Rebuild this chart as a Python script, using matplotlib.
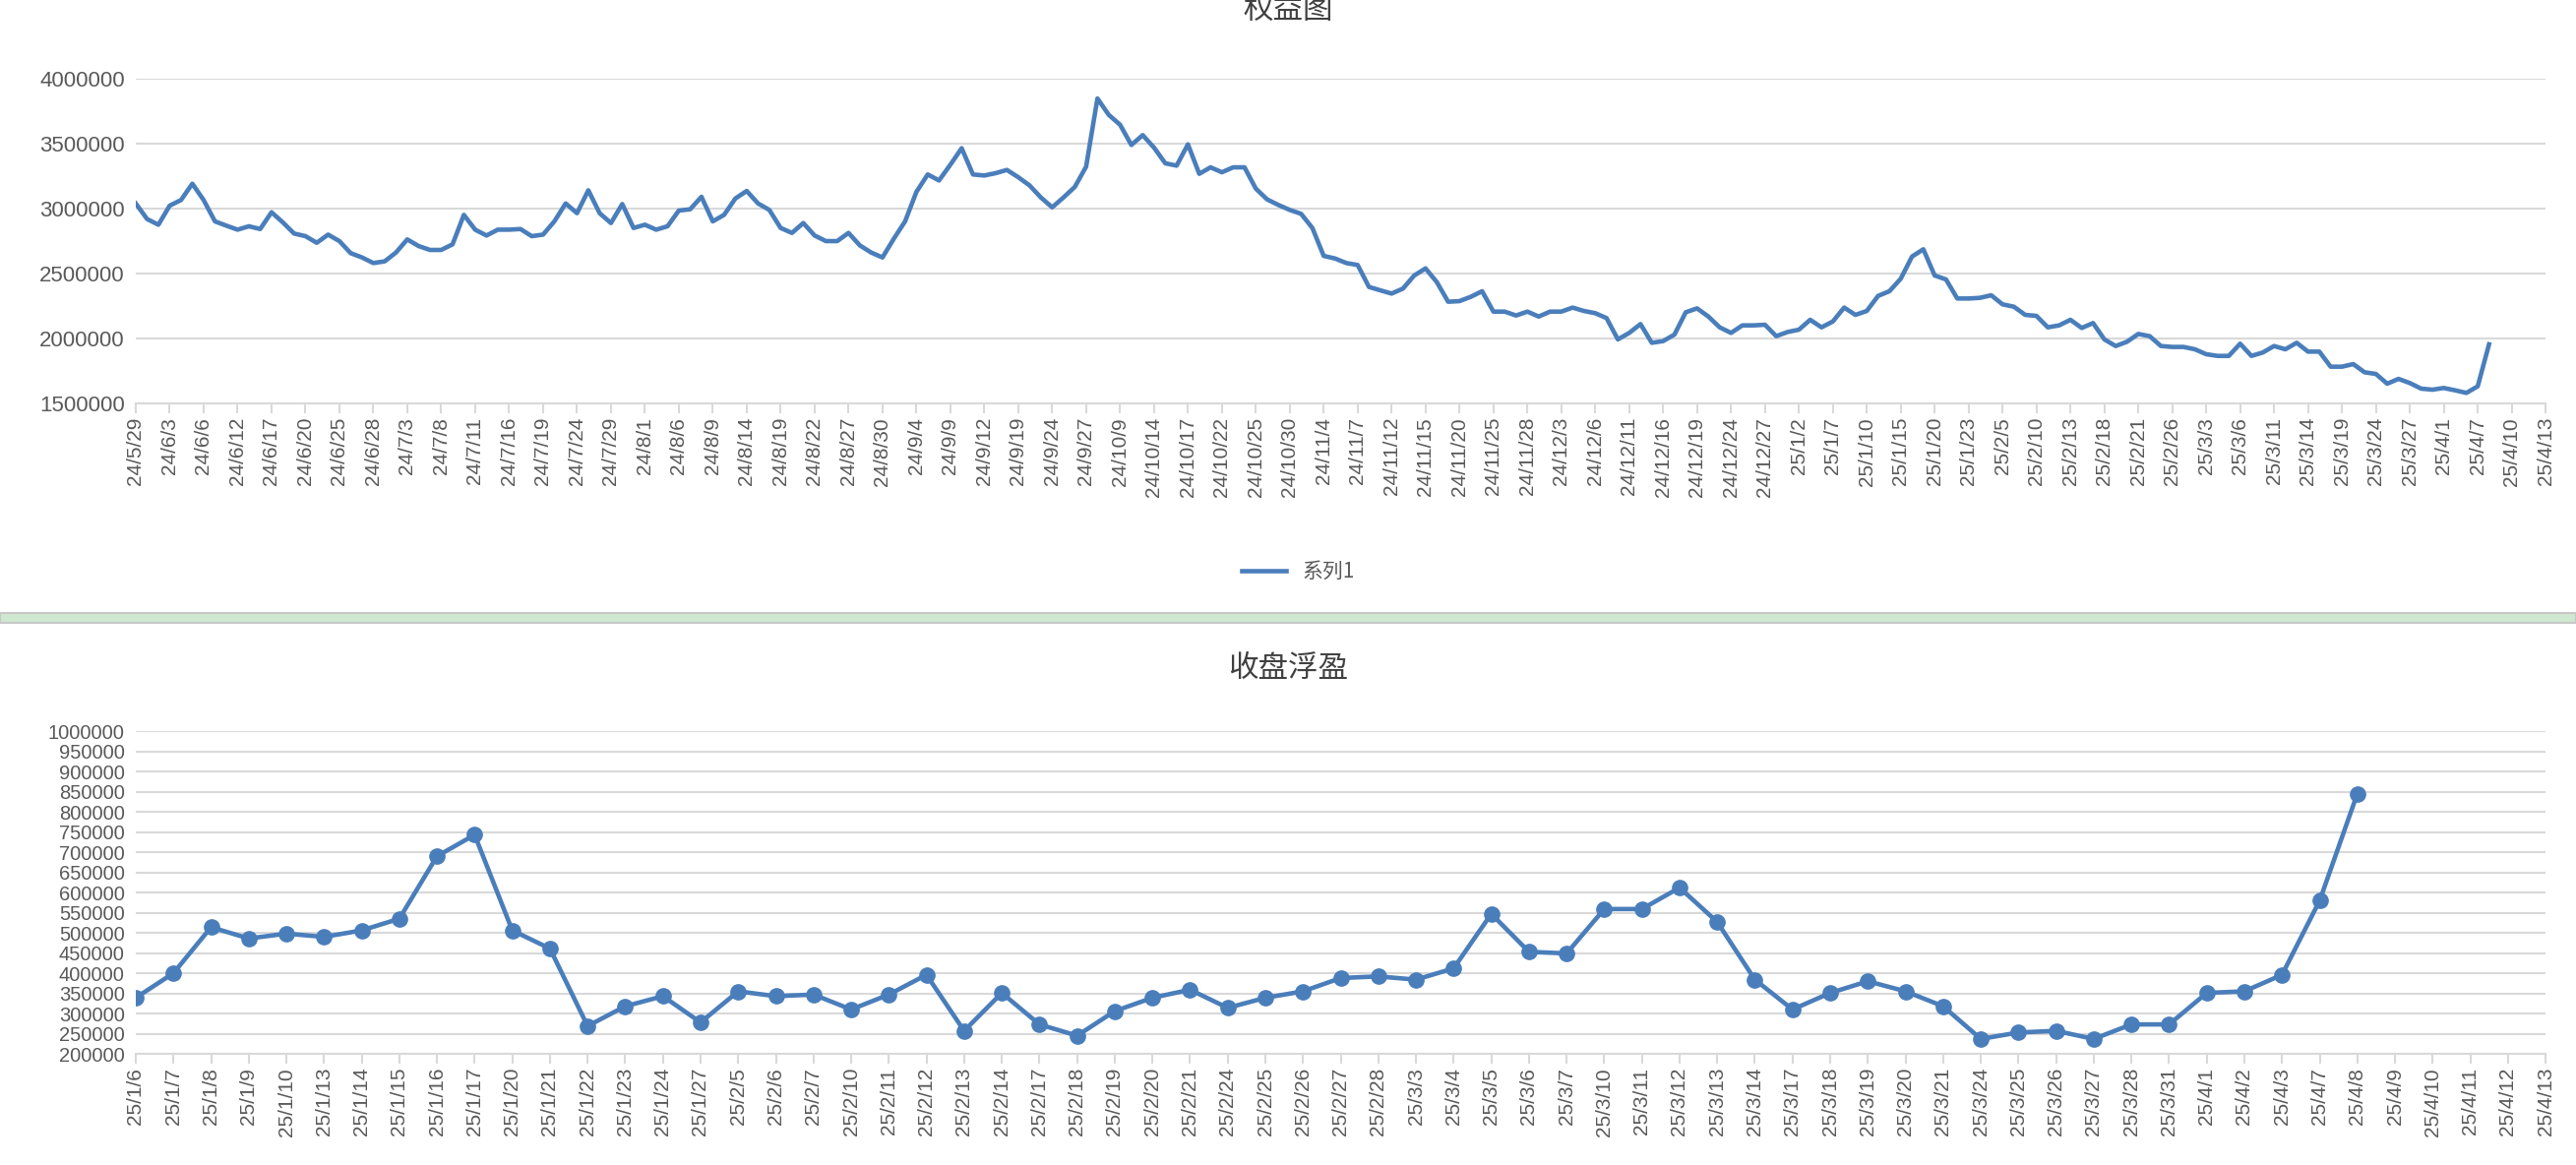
import matplotlib
matplotlib.use("Agg")
import matplotlib.pyplot as plt
from matplotlib.patches import Rectangle
from matplotlib.lines import Line2D
from matplotlib.ticker import FuncFormatter

plt.rcParams['font.family'] = ['Liberation Sans', 'Noto Sans CJK SC', 'DejaVu Sans']

# equity curve (trading days from 24/5/29 to 25/4/8), in thousands
equity_k = [
    3040, 2920, 2876, 3023, 3066, 3192, 3066, 2902, 2869, 2838,
    2864, 2843, 2972, 2894, 2808, 2788, 2737, 2800, 2750, 2657,
    2624, 2581, 2594, 2662, 2763, 2712, 2682, 2682, 2725, 2952,
    2838, 2793, 2838, 2838, 2843, 2788, 2800, 2902, 3040, 2965,
    3141, 2965, 2889, 3035, 2851, 2876, 2838, 2864, 2985, 2995,
    3091, 2902, 2952, 3078, 3136, 3040, 2990, 2851, 2813, 2889,
    2793, 2750, 2750, 2813, 2717, 2662, 2624, 2768, 2902, 3129,
    3263, 3217, 3338, 3465, 3263, 3255, 3273, 3298, 3242, 3179,
    3086, 3010, 3086, 3167, 3323, 3848, 3722, 3646, 3490, 3566,
    3470, 3349, 3331, 3495, 3268, 3318, 3280, 3318, 3318, 3154,
    3071, 3028, 2990, 2960, 2851, 2636, 2616, 2581, 2566, 2397,
    2371, 2346, 2384, 2485, 2540, 2434, 2283, 2288, 2321, 2364,
    2207, 2207, 2177, 2207, 2169, 2207, 2207, 2238, 2212, 2195,
    2157, 1993, 2043, 2111, 1967, 1980, 2030, 2202, 2232, 2169,
    2086, 2043, 2101, 2101, 2106, 2018, 2050, 2068, 2144, 2086,
    2131, 2238, 2182, 2212, 2328, 2364, 2460, 2631, 2687, 2485,
    2455, 2308, 2308, 2313, 2333, 2263, 2245, 2182, 2174, 2086,
    2101, 2144, 2081, 2119, 1993, 1942, 1975, 2035, 2018, 1942,
    1935, 1935, 1917, 1879, 1866, 1866, 1960, 1866, 1892, 1942,
    1917, 1967, 1899, 1899, 1783, 1783, 1803, 1740, 1727, 1652,
    1689, 1657, 1614, 1606, 1619, 1601, 1581, 1632, 1955,
]
equity = [v * 1000 for v in equity_k]
n_top_cats = 214
top_labels = [
    '24/5/29', '24/6/3', '24/6/6', '24/6/12', '24/6/17', '24/6/20', '24/6/25', '24/6/28',
    '24/7/3', '24/7/8', '24/7/11', '24/7/16', '24/7/19', '24/7/24', '24/7/29', '24/8/1',
    '24/8/6', '24/8/9', '24/8/14', '24/8/19', '24/8/22', '24/8/27', '24/8/30', '24/9/4',
    '24/9/9', '24/9/12', '24/9/19', '24/9/24', '24/9/27', '24/10/9', '24/10/14', '24/10/17',
    '24/10/22', '24/10/25', '24/10/30', '24/11/4', '24/11/7', '24/11/12', '24/11/15', '24/11/20',
    '24/11/25', '24/11/28', '24/12/3', '24/12/6', '24/12/11', '24/12/16', '24/12/19', '24/12/24',
    '24/12/27', '25/1/2', '25/1/7', '25/1/10', '25/1/15', '25/1/20', '25/1/23', '25/2/5',
    '25/2/10', '25/2/13', '25/2/18', '25/2/21', '25/2/26', '25/3/3', '25/3/6', '25/3/11',
    '25/3/14', '25/3/19', '25/3/24', '25/3/27', '25/4/1', '25/4/7', '25/4/10', '25/4/13',
]

# closing floating profit
float_labels = [
    '25/1/6', '25/1/7', '25/1/8', '25/1/9', '25/1/10', '25/1/13', '25/1/14', '25/1/15',
    '25/1/16', '25/1/17', '25/1/20', '25/1/21', '25/1/22', '25/1/23', '25/1/24', '25/1/27',
    '25/2/5', '25/2/6', '25/2/7', '25/2/10', '25/2/11', '25/2/12', '25/2/13', '25/2/14',
    '25/2/17', '25/2/18', '25/2/19', '25/2/20', '25/2/21', '25/2/24', '25/2/25', '25/2/26',
    '25/2/27', '25/2/28', '25/3/3', '25/3/4', '25/3/5', '25/3/6', '25/3/7', '25/3/10',
    '25/3/11', '25/3/12', '25/3/13', '25/3/14', '25/3/17', '25/3/18', '25/3/19', '25/3/20',
    '25/3/21', '25/3/24', '25/3/25', '25/3/26', '25/3/27', '25/3/28', '25/3/31', '25/4/1',
    '25/4/2', '25/4/3', '25/4/7', '25/4/8', '25/4/9', '25/4/10', '25/4/11', '25/4/12',
    '25/4/13',
]
float_k = [
    339, 400, 514, 486, 498, 490, 506, 535, 690, 743,
    506, 461, 269, 318, 343, 278, 355, 343, 347, 310,
    347, 396, 257, 351, 273, 245, 306, 339, 359, 314,
    339, 355, 388, 392, 384, 412, 547, 453, 449, 559,
    559, 612, 527, 384, 310, 351, 380, 355, 318, 237,
    253, 257, 237, 273, 273, 351, 355, 396, 580, 845,
]
float_pl = [v * 1000 for v in float_k]

BLUE = '#4a7ebb'
GREY = '#595959'
GRID = '#d9d9d9'
plain = FuncFormatter(lambda v, p: '%d' % v)

fig = plt.figure(figsize=(26.18, 11.84), dpi=100)
fig.patch.set_facecolor('white')


def style(ax):
    for s in ['top', 'right', 'left']:
        ax.spines[s].set_visible(False)
    ax.spines['bottom'].set_color(GRID)
    ax.spines['bottom'].set_linewidth(1.5)
    ax.grid(axis='y', color=GRID, linewidth=1.5)
    ax.set_axisbelow(True)
    ax.yaxis.set_major_formatter(plain)
    ax.tick_params(axis='y', length=0, labelsize=16, labelcolor=GREY, pad=8)
    ax.tick_params(axis='x', length=7, width=1.5, color=GRID, labelsize=15,
                   labelcolor=GREY, rotation=90, pad=3)


# top chart
ax1 = fig.add_axes([0.0527, 0.6537, 0.9355, 0.2787])
ax1.plot(range(len(equity)), equity, color=BLUE, lw=3.3, solid_joinstyle='round')
ax1.set_xlim(0, n_top_cats - 1)
ax1.set_ylim(1500000, 4000000)
ax1.set_yticks(range(1500000, 4000001, 500000))
ax1.set_xticks(range(0, n_top_cats, 3))
ax1.set_xticklabels(top_labels)
style(ax1)
fig.text(0.5, 1 - 10 / 1184, '权益图', ha='center', va='center', fontsize=22,
         color='#404040', family=['Noto Sans CJK SC', 'DejaVu Sans'])

leg = [Line2D([0], [0], color=BLUE, lw=3.3)]
fig.legend(leg, ['系列1'], loc='center', bbox_to_anchor=(0.504, 1 - 581 / 1184),
           frameon=False, labelcolor=GREY, handlelength=2.2,
           prop={'family': ['Noto Sans CJK SC', 'DejaVu Sans'], 'size': 15})

# separator band
fig.patches.append(Rectangle((0, 1 - 633 / 1184), 1, 10 / 1184, transform=fig.transFigure,
                             facecolor='#cfe8d1', edgecolor='#c8c8c8', lw=1.5))

# bottom chart
ax2 = fig.add_axes([0.0527, 0.0954, 0.9355, 0.277])
ax2.plot(range(len(float_pl)), float_pl, color=BLUE, lw=3.3, marker='o', ms=11,
         solid_joinstyle='round')
ax2.set_xlim(0, len(float_labels) - 1)
ax2.set_ylim(200000, 1000000)
ax2.set_yticks(range(200000, 1000001, 50000))
ax2.set_xticks(range(len(float_labels)))
ax2.set_xticklabels(float_labels)
style(ax2)
ax2.tick_params(axis='y', labelsize=14.5, pad=8)
fig.text(0.5, 1 - 680 / 1184, '收盘浮盈', ha='center', va='center', fontsize=22,
         color='#404040', family=['Noto Sans CJK SC', 'DejaVu Sans'])

fig.savefig('out.png', dpi=100)
plt.close(fig)
